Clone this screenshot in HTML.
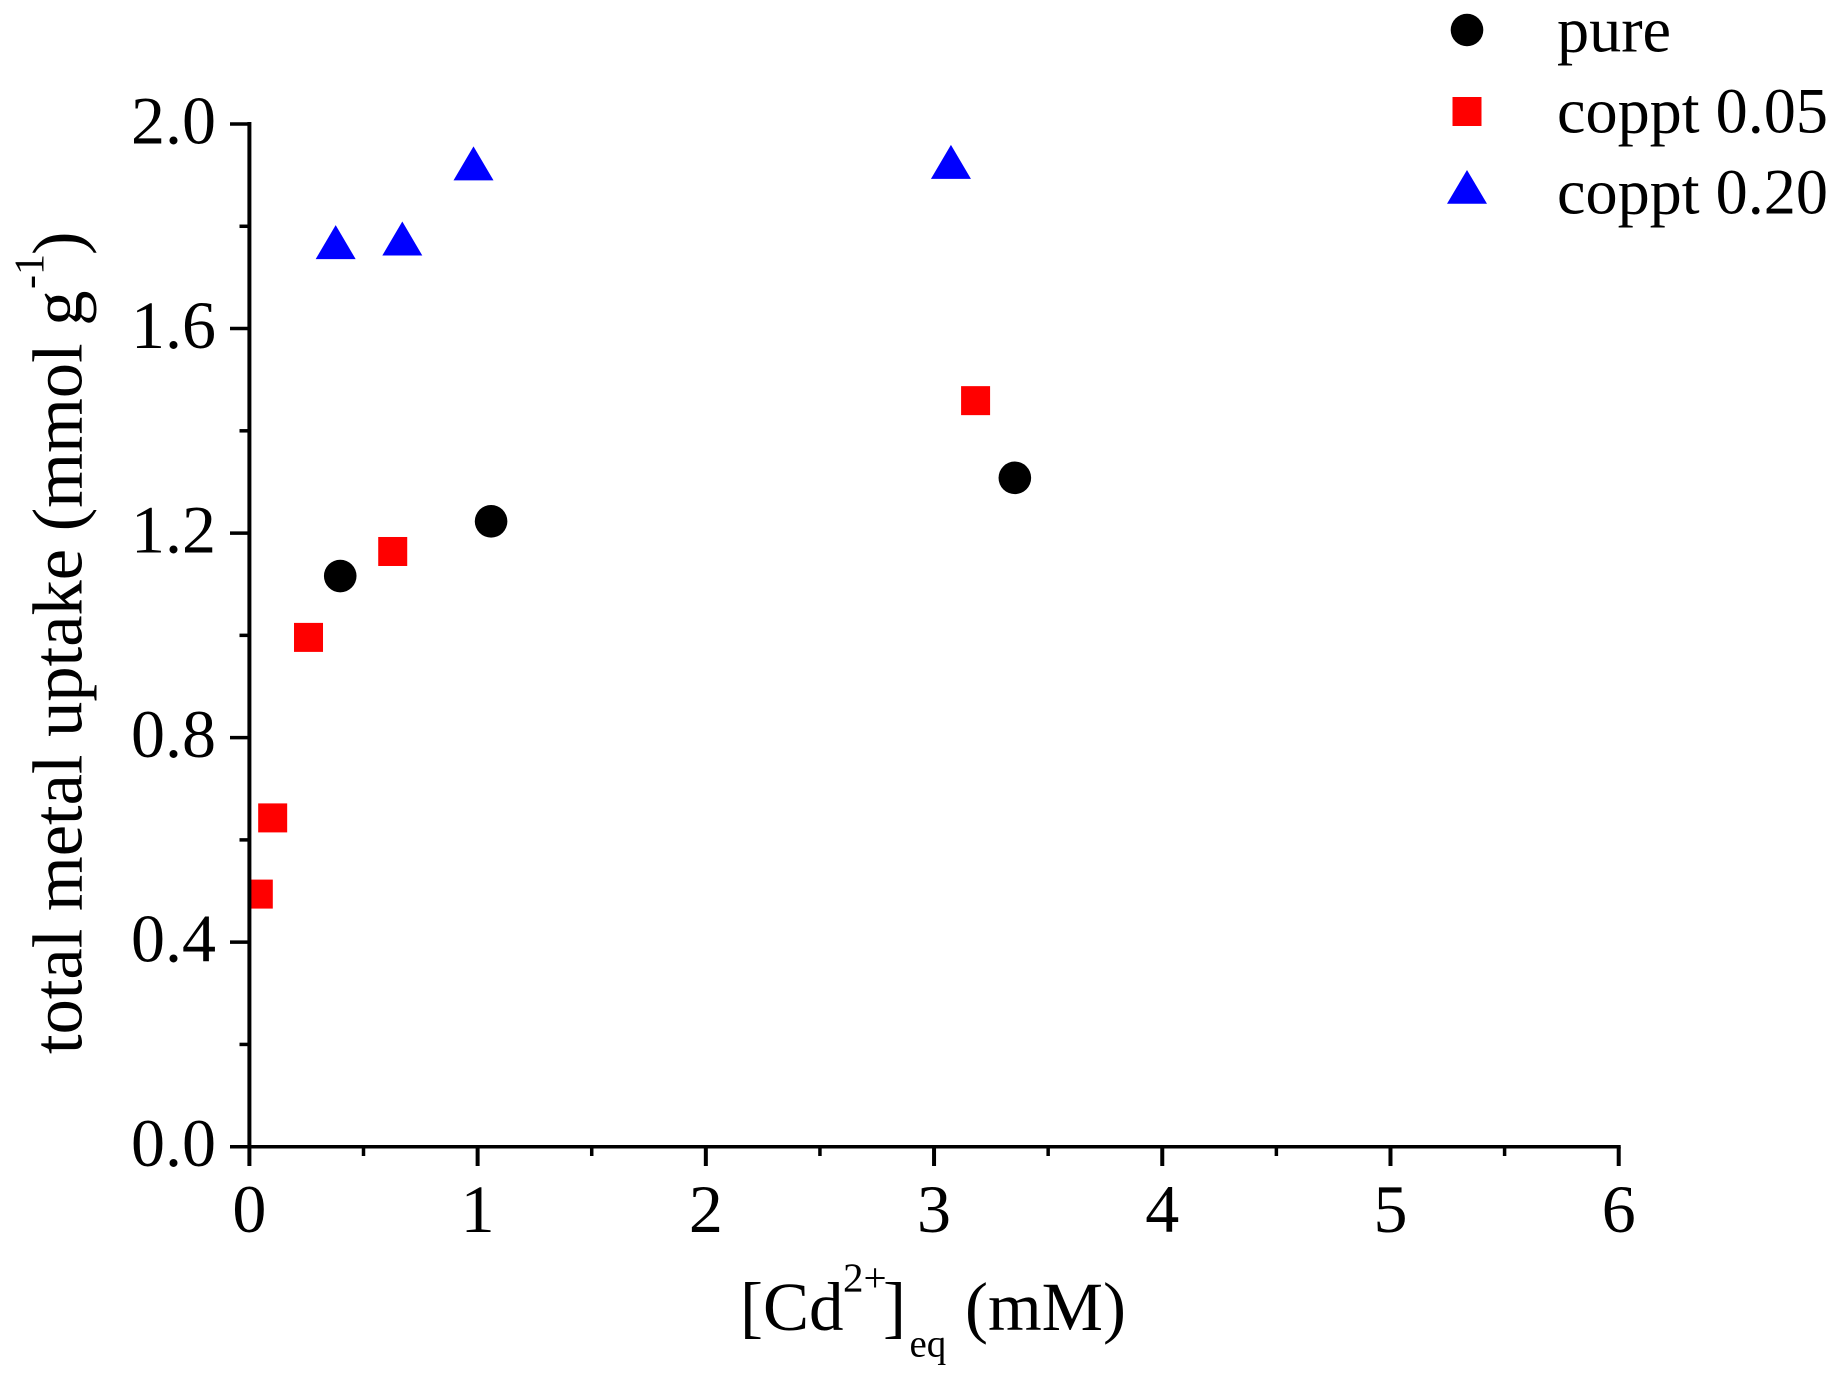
<!DOCTYPE html>
<html lang="en">
<head>
<meta charset="utf-8">
<title>Total metal uptake vs equilibrium Cd2+ concentration</title>
<style>
html,body{margin:0;padding:0;background:#fff;}
body{width:1846px;height:1384px;overflow:hidden;}
svg{display:block;}
text{font-family:"Liberation Serif",serif;fill:#000;}
</style>
</head>
<body>
<svg id="chart" xmlns="http://www.w3.org/2000/svg" width="1846" height="1384" viewBox="0 0 1846 1384">
  <defs>
    <clipPath id="plot-clip"><rect x="249.5" y="100" width="1372" height="1047"/></clipPath>
  </defs>
  <rect x="0" y="0" width="1846" height="1384" fill="#fff"/>
  <g id="series-layer" clip-path="url(#plot-clip)"></g>
  <g id="axes-layer"></g>

  <text font-size="69"><tspan x="740" y="1330">[Cd</tspan><tspan x="843" y="1291.5" font-size="41">2+</tspan><tspan x="883" y="1330">]</tspan><tspan x="909.5" y="1356.5" font-size="39">eq</tspan><tspan x="965" y="1330">(mM)</tspan></text>

  <text font-size="70.5" transform="translate(81.5,1054) rotate(-90)"><tspan x="0" y="0">total metal uptake (mmol g</tspan><tspan x="765" y="-38.2" font-size="42">-1</tspan><tspan x="799" y="0">)</tspan></text>

  <g>
    <g>
      <circle cx="1467" cy="30" r="16.3" fill="#000"/>
      <text x="1557" y="51.7" font-size="64.2">pure</text>
    </g>
    <g>
      <rect x="1452.5" y="97" width="29" height="29" fill="#f00"/>
      <text x="1557" y="132.7" font-size="64.2">coppt 0.05</text>
    </g>
    <g>
      <polygon points="1467,170 1487,203.7 1447,203.7" fill="#00f"/>
      <text x="1557" y="213.3" font-size="64.2">coppt 0.20</text>
    </g>
  </g>
</svg>
<script>
const xTickLabels = ["0", "1", "2", "3", "4", "5", "6"];
const xTickValues = [0, 1, 2, 3, 4, 5, 6];
const xMinorValues = [0.5, 1.5, 2.5, 3.5, 4.5, 5.5];
const yTickLabels = ["0.0", "0.4", "0.8", "1.2", "1.6", "2.0"];
const yTickValues = [0, 0.4, 0.8, 1.2, 1.6, 2.0];
const yMinorValues = [0.2, 0.6, 1.0, 1.4, 1.8];

const pureX = [0.398, 1.059, 3.354];
const pureY = [1.116, 1.223, 1.308];
const coppt005X = [0.039, 0.102, 0.259, 0.628, 3.182];
const coppt005Y = [0.494, 0.643, 0.996, 1.164, 1.459];
const coppt020X = [0.378, 0.670, 0.982, 3.074];
const coppt020Y = [1.769, 1.776, 1.923, 1.926];

const SVG_NS = "http://www.w3.org/2000/svg";
const seriesLayer = document.getElementById("series-layer");
const axesLayer = document.getElementById("axes-layer");

const X_LEFT = 249.4, X_RIGHT = 1618.7, X_MIN = 0, X_MAX = 6;
const Y_BOTTOM = 1146.7, Y_TOP = 124, Y_MIN = 0, Y_MAX = 2;

function xScale(v) {
  return X_LEFT + (v - X_MIN) / (X_MAX - X_MIN) * (X_RIGHT - X_LEFT);
}
function yScale(v) {
  return Y_BOTTOM - (v - Y_MIN) / (Y_MAX - Y_MIN) * (Y_BOTTOM - Y_TOP);
}
function make(tag) {
  return document.createElementNS(SVG_NS, tag);
}
function line(x1, y1, x2, y2, width) {
  const l = make("line");
  l.setAttribute("x1", x1);
  l.setAttribute("y1", y1);
  l.setAttribute("x2", x2);
  l.setAttribute("y2", y2);
  l.setAttribute("stroke", "#000");
  l.setAttribute("stroke-width", width);
  return l;
}

/* series */
pureX.forEach(function (xv, i) {
  const c = make("circle");
  
  
  c.setAttribute("cx", xScale(xv));
  c.setAttribute("cy", yScale(pureY[i]));
  c.setAttribute("r", 16.3);
  c.setAttribute("fill", "#000");
  seriesLayer.appendChild(c);
});
coppt005X.forEach(function (xv, i) {
  const r = make("rect");
  
  
  r.setAttribute("x", xScale(xv) - 14.5);
  r.setAttribute("y", yScale(coppt005Y[i]) - 14.5);
  r.setAttribute("width", 29);
  r.setAttribute("height", 29);
  r.setAttribute("fill", "#f00");
  seriesLayer.appendChild(r);
});
coppt020X.forEach(function (xv, i) {
  const cx = xScale(xv);
  const cy = yScale(coppt020Y[i]);
  const p = make("polygon");
  
  
  p.setAttribute("points", cx + "," + (cy - 17) + " " + (cx + 20) + "," + (cy + 17) + " " + (cx - 20) + "," + (cy + 17));
  p.setAttribute("fill", "#00f");
  seriesLayer.appendChild(p);
});

/* axis lines */
const yAxisLine = line(X_LEFT, Y_TOP - 2, X_LEFT, Y_BOTTOM, 4);


axesLayer.appendChild(yAxisLine);

const xAxisLine = line(X_LEFT, Y_BOTTOM, X_RIGHT + 2, Y_BOTTOM, 3.5);


axesLayer.appendChild(xAxisLine);

/* x ticks */
xTickValues.forEach(function (v, i) {
  const px = xScale(v);
  const t = line(px, Y_BOTTOM, px, 1166, 4);
  
  
  axesLayer.appendChild(t);
  const label = make("text");
  
  
  label.setAttribute("x", px);
  label.setAttribute("y", 1232);
  label.setAttribute("font-size", 68);
  label.setAttribute("text-anchor", "middle");
  label.textContent = xTickLabels[i];
  axesLayer.appendChild(label);
});
xMinorValues.forEach(function (v) {
  const px = xScale(v);
  const t = line(px, Y_BOTTOM, px, 1156, 3.5);
  
  
  axesLayer.appendChild(t);
});

/* y ticks */
yTickValues.forEach(function (v, i) {
  const py = yScale(v);
  const t = line(230, py, X_LEFT, py, 3.5);
  
  
  axesLayer.appendChild(t);
  const label = make("text");
  
  
  label.setAttribute("x", 216);
  label.setAttribute("y", py + 19.5);
  label.setAttribute("font-size", 68);
  label.setAttribute("text-anchor", "end");
  label.textContent = yTickLabels[i];
  axesLayer.appendChild(label);
});
yMinorValues.forEach(function (v) {
  const py = yScale(v);
  const t = line(239.5, py, X_LEFT, py, 3.5);
  
  
  axesLayer.appendChild(t);
});
</script>
</body>
</html>
